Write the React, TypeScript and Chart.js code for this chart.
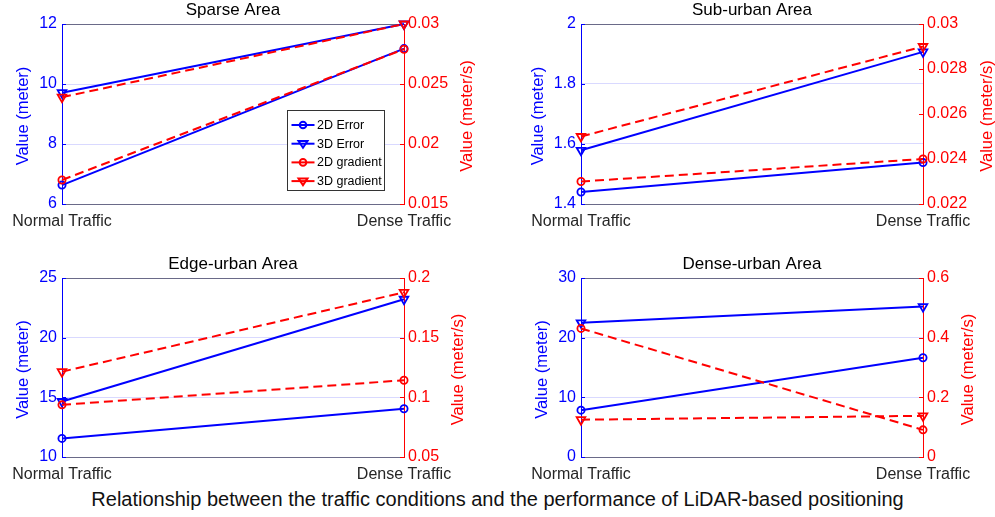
import React, { useEffect, useRef } from 'react';
import { Chart, registerables } from 'chart.js';

Chart.register(...registerables);

// ---------- data ----------
const categories = ['Normal Traffic', 'Dense Traffic'];
const seriesNames = ['2D Error', '3D Error', '2D gradient', '3D gradient'];
const panelTitles = ['Sparse Area', 'Sub-urban Area', 'Edge-urban Area', 'Dense-urban Area'];
const bottomTitle = 'Relationship between the traffic conditions and the performance of LiDAR-based positioning';
const leftAxisTitle = 'Value (meter)';
const rightAxisTitle = 'Value (meter/s)';

const sparse2DError = [6.63, 11.18];
const sparse3DError = [9.71, 12.0];
const sparse2DGradient = [0.017, 0.0279];
const sparse3DGradient = [0.0239, 0.03];

const suburban2DError = [1.44, 1.538];
const suburban3DError = [1.579, 1.907];
const suburban2DGradient = [0.023, 0.024];
const suburban3DGradient = [0.025, 0.029];

const edge2DError = [11.56, 14.04];
const edge3DError = [14.65, 23.22];
const edge2DGradient = [0.0937, 0.1143];
const edge3DGradient = [0.1215, 0.188];

const dense2DError = [7.85, 16.64];
const dense3DError = [22.49, 25.21];
const dense2DGradient = [0.431, 0.091];
const dense3DGradient = [0.125, 0.138];

// axis ranges: [min, max, step]
const sparseLeftAxis = [6, 12, 2];
const sparseRightAxis = [0.015, 0.03, 0.005];
const suburbanLeftAxis = [1.4, 2, 0.2];
const suburbanRightAxis = [0.022, 0.03, 0.002];
const edgeLeftAxis = [10, 25, 5];
const edgeRightAxis = [0.05, 0.2, 0.05];
const denseLeftAxis = [0, 30, 10];
const denseRightAxis = [0, 0.6, 0.2];

// ---------- styling / layout ----------
const BLUE = '#0000FF';
const RED = '#FF0000';
const FONT = '"Liberation Sans", Arial, Helvetica, sans-serif';
const BOX = '#6a6a88';

type Layout = {
  cx: number; cy: number; cw: number; ch: number;
  pl: number; pr: number; pb: number;
  leftTitleX: number; rightTitleX: number;
};

const layouts: Layout[] = [
  { cx: 0, cy: 0, cw: 497, ch: 245, pl: 62, pr: 404, pb: 204, leftTitleX: 23, rightTitleX: 467 },
  { cx: 497, cy: 0, cw: 498, ch: 245, pl: 581, pr: 923, pb: 204, leftTitleX: 538, rightTitleX: 987 },
  { cx: 0, cy: 254, cw: 497, ch: 232, pl: 62, pr: 404, pb: 457, leftTitleX: 23, rightTitleX: 458 },
  { cx: 497, cy: 254, cw: 498, ch: 232, pl: 581, pr: 923, pb: 457, leftTitleX: 542, rightTitleX: 968 },
];

const panelData = [
  { series: [sparse2DError, sparse3DError, sparse2DGradient, sparse3DGradient], left: sparseLeftAxis, right: sparseRightAxis, legend: true },
  { series: [suburban2DError, suburban3DError, suburban2DGradient, suburban3DGradient], left: suburbanLeftAxis, right: suburbanRightAxis, legend: false },
  { series: [edge2DError, edge3DError, edge2DGradient, edge3DGradient], left: edgeLeftAxis, right: edgeRightAxis, legend: false },
  { series: [dense2DError, dense3DError, dense2DGradient, dense3DGradient], left: denseLeftAxis, right: denseRightAxis, legend: false },
];

const fmt = (v: number) => String(Number(v.toFixed(6)));

function drawMarker(ctx: CanvasRenderingContext2D, kind: string, x: number, y: number, color: string) {
  ctx.save();
  ctx.strokeStyle = color;
  ctx.lineWidth = 2;
  ctx.setLineDash([]);
  ctx.beginPath();
  if (kind === 'circle') {
    ctx.arc(x, y, 3.3, 0, Math.PI * 2);
  } else {
    const r = 4.5;
    ctx.moveTo(x - r, y - r * 0.6);
    ctx.lineTo(x + r, y - r * 0.6);
    ctx.lineTo(x, y + r * 0.9);
    ctx.closePath();
  }
  ctx.stroke();
  ctx.restore();
}

const decoPlugin = {
  id: 'deco',
  beforeDatasetsDraw(chart: any) {
    const { ctx, chartArea: a, scales } = chart;
    ctx.save();
    ctx.lineWidth = 1;
    ctx.strokeStyle = BOX;
    ctx.beginPath();
    ctx.moveTo(a.left, Math.round(a.top) + 0.5);
    ctx.lineTo(a.right, Math.round(a.top) + 0.5);
    ctx.stroke();
    const yL = scales.yL;
    const yR = scales.yR;
    ctx.strokeStyle = BLUE;
    yL.ticks.forEach((t: any) => {
      const y = Math.round(yL.getPixelForValue(t.value)) + 0.5;
      ctx.beginPath();
      ctx.moveTo(a.left, y);
      ctx.lineTo(a.left + 4, y);
      ctx.stroke();
    });
    ctx.strokeStyle = RED;
    yR.ticks.forEach((t: any) => {
      const y = Math.round(yR.getPixelForValue(t.value)) + 0.5;
      ctx.beginPath();
      ctx.moveTo(a.right, y);
      ctx.lineTo(a.right - 4, y);
      ctx.stroke();
    });
    ctx.restore();
  },
  afterDraw(chart: any, _args: any, opts: any) {
    const { ctx, chartArea: a } = chart;
    const cy = (a.top + a.bottom) / 2 + 2;
    ctx.save();
    // panel title centred over the plot area
    ctx.font = `17px ${FONT}`;
    ctx.fillStyle = '#000000';
    ctx.textAlign = 'center';
    ctx.textBaseline = 'middle';
    ctx.fillText(opts.title, (a.left + a.right) / 2, a.top - 13.3);

    ctx.font = `16.5px ${FONT}`;
    ctx.fillStyle = BLUE;
    ctx.save();
    ctx.translate(opts.leftTitleX, cy);
    ctx.rotate(-Math.PI / 2);
    ctx.fillText(leftAxisTitle, 0, 0);
    ctx.restore();
    ctx.fillStyle = RED;
    ctx.save();
    ctx.translate(opts.rightTitleX, cy);
    ctx.rotate(-Math.PI / 2);
    ctx.fillText(rightAxisTitle, 0, 0);
    ctx.restore();

    if (opts.legend) {
      const bx = Math.round(a.left + 225) + 0.5;
      const by = Math.round(a.top + 86) + 0.5;
      const bw = 97;
      const bh = 80;
      ctx.fillStyle = '#ffffff';
      ctx.fillRect(bx, by, bw, bh);
      ctx.strokeStyle = '#333333';
      ctx.lineWidth = 1;
      ctx.strokeRect(bx, by, bw, bh);
      const colors = [BLUE, BLUE, RED, RED];
      const kinds = ['circle', 'triangle', 'circle', 'triangle'];
      seriesNames.forEach((name, i) => {
        const ry = by + 14.5 + i * 18.7;
        ctx.strokeStyle = colors[i];
        ctx.lineWidth = 2;
        ctx.beginPath();
        ctx.moveTo(bx + 4, ry);
        ctx.lineTo(bx + 27, ry);
        ctx.stroke();
        drawMarker(ctx, kinds[i], bx + 15.5, ry, colors[i]);
        ctx.fillStyle = '#000000';
        ctx.font = `12.5px ${FONT}`;
        ctx.textAlign = 'left';
        ctx.textBaseline = 'middle';
        ctx.fillText(name, bx + 29.5, ry + 0.5);
      });
    }
    ctx.restore();
  },
};

function Panel({ index }: { index: number }) {
  const ref = useRef<HTMLCanvasElement>(null);
  useEffect(() => {
    const L = layouts[index];
    const P = panelData[index];
    const colors = [BLUE, BLUE, RED, RED];
    const styles = ['circle', 'triangle', 'circle', 'triangle'];
    const datasets = P.series.map((vals, i) => ({
      label: seriesNames[i],
      data: vals,
      yAxisID: i < 2 ? 'yL' : 'yR',
      borderColor: colors[i],
      backgroundColor: 'rgba(0,0,0,0)',
      borderWidth: 2,
      borderDash: i < 2 ? [] : [9, 5],
      pointStyle: styles[i],
      pointRotation: styles[i] === 'triangle' ? 180 : 0,
      pointRadius: styles[i] === 'triangle' ? 5 : 3.6,
      pointBorderWidth: 1.8,
      pointBorderColor: colors[i],
      pointBackgroundColor: 'rgba(0,0,0,0)',
      tension: 0,
      clip: false as any,
      order: i < 2 ? 1 : 0,
    }));
    const chart = new Chart(ref.current!, {
      type: 'line',
      data: { labels: categories, datasets },
      plugins: [decoPlugin as any],
      options: {
        animation: false,
        responsive: false,
        maintainAspectRatio: false,
        layout: { padding: 0 },
        plugins: {
          legend: { display: false },
          tooltip: { enabled: false },
          title: {
            display: true,
            text: panelTitles[index],
            color: 'rgba(0,0,0,0)',
            font: { family: FONT, size: 17, weight: 'normal' as any, lineHeight: 1.2 },
            padding: { top: 0.5, bottom: 3.1 },
          },
          deco: { title: panelTitles[index], leftTitleX: L.leftTitleX - L.cx, rightTitleX: L.rightTitleX - L.cx, legend: P.legend },
        } as any,
        scales: {
          x: {
            type: 'category',
            offset: false,
            grid: { display: false, drawTicks: false },
            border: { display: true, color: BOX, width: 1 },
            ticks: { color: '#262626', font: { family: FONT, size: 16 }, padding: 8, maxRotation: 0, autoSkip: false },
            afterFit: (s: any) => { s.height = L.cy + L.ch - L.pb; },
          },
          yL: {
            type: 'linear',
            position: 'left',
            min: P.left[0],
            max: P.left[1],
            ticks: { stepSize: P.left[2], color: BLUE, font: { family: FONT, size: 16 }, padding: 5, callback: (v: any) => fmt(Number(v)) },
            grid: {
              drawTicks: false,
              color: (c: any) => (c.tick && (Math.abs(c.tick.value - P.left[0]) < 1e-9 || Math.abs(c.tick.value - P.left[1]) < 1e-9)) ? 'rgba(0,0,0,0)' : 'rgba(0,0,255,0.15)',
            },
            border: { display: true, color: BLUE, width: 1 },
            afterFit: (s: any) => { s.width = L.pl - L.cx; },
          },
          yR: {
            type: 'linear',
            position: 'right',
            min: P.right[0],
            max: P.right[1],
            ticks: { stepSize: P.right[2], color: RED, font: { family: FONT, size: 16 }, padding: 4, callback: (v: any) => fmt(Number(v)) },
            grid: { display: false, drawTicks: false },
            border: { display: true, color: RED, width: 1 },
            afterFit: (s: any) => { s.width = L.cx + L.cw - L.pr; },
          },
        },
      },
    });
    return () => chart.destroy();
  }, [index]);
  const L = layouts[index];
  return (
    <canvas
      ref={ref}
      width={L.cw}
      height={L.ch}
      style={{ position: 'absolute', left: L.cx, top: L.cy, width: L.cw, height: L.ch }}
    />
  );
}

export default function App() {
  return (
    <div style={{ position: 'absolute', left: 0, top: 0, width: 995, height: 517, background: '#ffffff', overflow: 'hidden' }}>
      {[0, 1, 2, 3].map((i) => <Panel key={i} index={i} />)}
      <div
        style={{
          position: 'absolute',
          left: 0,
          top: 487,
          width: 995,
          textAlign: 'center',
          fontFamily: FONT,
          fontSize: 20,
          lineHeight: '24px',
          color: '#111111',
          whiteSpace: 'nowrap',
        }}
      >
        {bottomTitle}
      </div>
    </div>
  );
}
